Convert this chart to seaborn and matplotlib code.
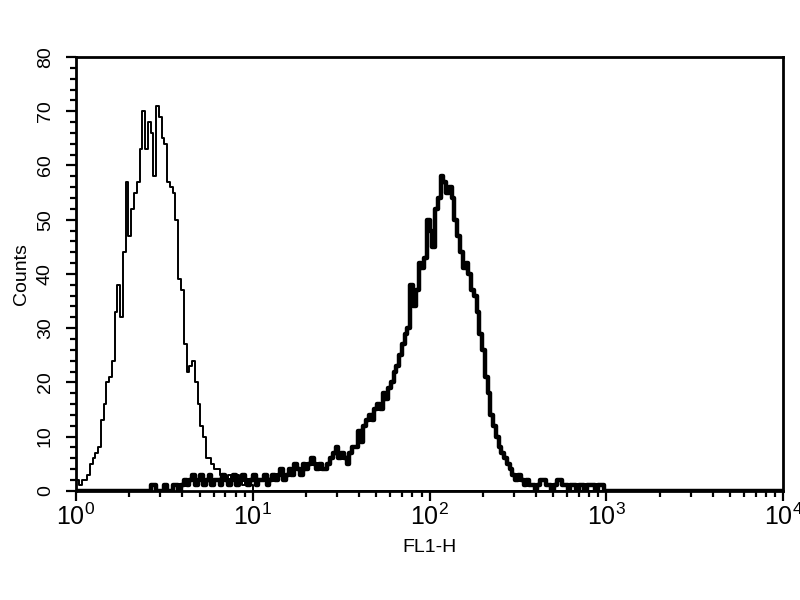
import numpy as np
import pandas as pd
import matplotlib
matplotlib.use("Agg")
import matplotlib.pyplot as plt
import seaborn as sns
from matplotlib.ticker import LogLocator, MultipleLocator, NullFormatter

# 256-channel log histogram, 4 decades (64 channels per decade)
channels_per_decade = 64
n_channels = 256

# isotype control (thin line), counts for channels 0..64
control_counts = [2, 1, 2, 2, 3, 5, 6, 7, 8, 13, 16, 20, 21, 24, 33, 38, 32, 44, 57, 47,
                  52, 55, 57, 63, 70, 63, 68, 66, 58, 71, 69, 65, 64, 57, 56, 55, 50, 39, 37, 27,
                  22, 23, 24, 20, 16, 12, 10, 6, 6, 5, 4, 4, 3, 3, 2, 3, 2, 2, 3, 2,
                  1, 2, 1, 1, 0]

# stained sample (thick line), counts for channels 0..191
stained_counts = [0, 0, 0, 0, 0, 0, 0, 0, 0, 0, 0, 0, 0, 0, 0, 0, 0, 0, 0, 0,
                  0, 0, 0, 0, 0, 0, 0, 1, 1, 0, 0, 0, 1, 0, 0, 1, 1, 0, 1, 2,
                  1, 2, 3, 1, 2, 3, 1, 2, 3, 1, 2, 2, 1, 3, 2, 1, 2, 3, 1, 2,
                  3, 2, 1, 2, 3, 1, 2, 2, 3, 1, 2, 3, 2, 3, 4, 2, 3, 4, 3, 5,
                  4, 3, 5, 4, 5, 6, 5, 4, 5, 4, 4, 5, 6, 7, 8, 6, 7, 6, 5, 7,
                  8, 8, 11, 9, 12, 13, 14, 13, 15, 16, 15, 18, 17, 19, 20, 22, 23, 25, 27, 29,
                  30, 38, 34, 37, 42, 41, 43, 50, 48, 45, 52, 54, 58, 57, 55, 56, 54, 50, 47, 44,
                  41, 42, 40, 37, 36, 33, 29, 26, 21, 18, 14, 12, 10, 8, 7, 6, 5, 4, 3, 2,
                  3, 2, 1, 2, 1, 1, 0, 1, 2, 2, 1, 1, 0, 1, 2, 2, 1, 1, 0, 1,
                  1, 0, 1, 1, 0, 1, 1, 1, 0, 1, 1, 0]

y_ticks = [0, 10, 20, 30, 40, 50, 60, 70, 80]
x_label = "FL1-H"
y_label = "Counts"


def to_frame(counts):
    c = np.zeros(n_channels)
    c[:len(counts)] = counts
    edges = 10 ** (np.arange(n_channels + 1) / channels_per_decade)
    return pd.DataFrame({x_label: edges, y_label: np.append(c, c[-1])})


sns.set_style("ticks")
plt.rcParams["font.family"] = ["Liberation Sans", "DejaVu Sans"]
plt.rcParams["mathtext.fontset"] = "custom"
plt.rcParams["mathtext.rm"] = "Liberation Sans"
plt.rcParams["text.color"] = "black"
plt.rcParams["axes.labelcolor"] = "black"
plt.rcParams["xtick.color"] = "black"
plt.rcParams["ytick.color"] = "black"

fig = plt.figure(figsize=(8, 6), dpi=100)
ax = fig.add_axes([0.095, 0.182, 0.884, 0.723])

sns.lineplot(data=to_frame(control_counts), x=x_label, y=y_label, color="black",
             linewidth=1.4, drawstyle="steps-post", estimator=None, ax=ax)
sns.lineplot(data=to_frame(stained_counts), x=x_label, y=y_label, color="black",
             linewidth=3.2, drawstyle="steps-post", estimator=None, ax=ax)

ax.set_xscale("log")
ax.set_xlim(1, 1e4)
ax.set_ylim(0, 80)
ax.xaxis.set_major_locator(LogLocator(base=10, numticks=10))
ax.xaxis.set_minor_locator(LogLocator(base=10, subs=range(2, 10), numticks=20))
ax.xaxis.set_minor_formatter(NullFormatter())
ax.set_yticks(y_ticks)
ax.yaxis.set_minor_locator(MultipleLocator(2))

for side in ax.spines.values():
    side.set_linewidth(2)
    side.set_color("black")
ax.tick_params(axis="both", which="major", length=7, width=1.6, color="black")
ax.tick_params(axis="both", which="minor", length=4.5, width=1.6, color="black")
ax.tick_params(axis="x", which="major", labelsize=18, pad=2, labelcolor="black")
ax.tick_params(axis="y", which="major", labelsize=14, pad=9, labelcolor="black")
plt.setp(ax.get_yticklabels(), rotation=90, va="center")

ax.set_xlabel(x_label, fontsize=14, labelpad=7, color="black")
ax.set_ylabel(y_label, fontsize=14, labelpad=5, color="black")

fig.savefig("out.png", dpi=100, facecolor="white")
